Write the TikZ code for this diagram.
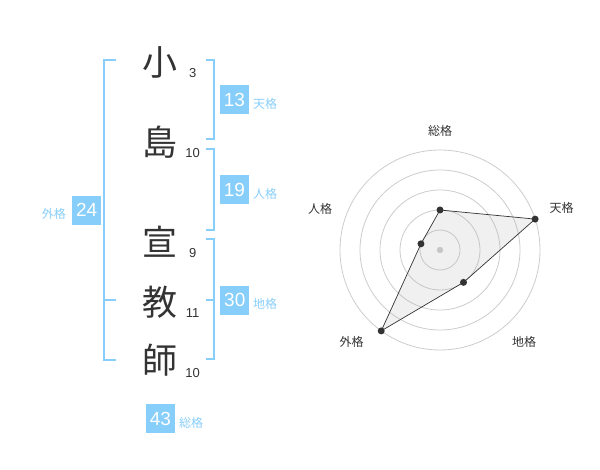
\documentclass[tikz,border=0pt]{standalone}
\usepackage{fontspec}
\setmainfont{Liberation Sans}
\newfontfamily\jp{Noto Sans CJK JP}
\definecolor{kblue}{HTML}{87CEFA}
\definecolor{ktext}{HTML}{333333}
\definecolor{kgrid}{HTML}{CCCCCC}
\tikzset{
  bigchar/.style={inner sep=0pt, font=\jp\fontsize{35}{35}\selectfont, text=ktext},
  strokes/.style={inner sep=0pt, font=\fontsize{13}{13}\selectfont, text=ktext},
  numbox/.style={fill=kblue, text=white, minimum width=29pt, minimum height=29pt, inner sep=0pt, font=\fontsize{19}{19}\selectfont},
  kaku/.style={inner sep=0pt, text=kblue, font=\jp\fontsize{12}{12}\selectfont},
  brk/.style={draw=kblue, line width=2pt},
  grid/.style={draw=kgrid, line width=0.8pt},
  radlabel/.style={inner sep=0pt, text=ktext, font=\jp\fontsize{12}{12}\selectfont},
  datadot/.style={circle, fill=ktext, inner sep=0pt, minimum size=7pt},
}
\begin{document}
\begin{tikzpicture}[x=1pt,y=-1pt]
\useasboundingbox (0,0) rectangle (600,470);
% characters
\node[bigchar] (c1) at (160,62) {小};
\node[bigchar] (c2) at (160,142) {島};
\node[bigchar] (c3) at (160,242) {宣};
\node[bigchar] (c4) at (160,302) {教};
\node[bigchar] (c5) at (160,360) {師};
\node[strokes] (s1) at (192.7,72.7) {3};
\node[strokes] (s2) at (192.7,152.7) {10};
\node[strokes] (s3) at (192.7,252.7) {9};
\node[strokes] (s4) at (192.7,313.3) {11};
\node[strokes] (s5) at (192.7,372.7) {10};
% brackets
\draw[brk] (116,60) -- (104,60) -- (104,360) -- (116,360);
\draw[brk] (104,300) -- (116,300);
\draw[brk] (205.5,60) -- (214.3,60) -- (214.3,139.5) -- (205.5,139.5);
\draw[brk] (205.5,149.5) -- (214.3,149.5) -- (214.3,230) -- (205.5,230);
\draw[brk] (205.5,239.5) -- (214.3,239.5) -- (214.3,359.5) -- (205.5,359.5);
\draw[brk] (205.5,300) -- (214.3,300);
% boxes
\node[numbox] (ten) at (234.5,100) {13};
\node[kaku, anchor=west] (tenl) at (253,104) {天格};
\node[numbox] (jin) at (234.5,190) {19};
\node[kaku, anchor=west] (jinl) at (253,194) {人格};
\node[numbox] (chi) at (234.8,300.3) {30};
\node[kaku, anchor=west] (chil) at (253,304.3) {地格};
\node[numbox] (gai) at (86.7,210.3) {24};
\node[kaku, anchor=east] (gail) at (66,214) {外格};
\node[numbox] (sou) at (160.5,418.8) {43};
\node[kaku, anchor=west] (soul) at (179,422.7) {総格};
% radar
\begin{scope}[shift={(440,250)}, y=1pt]
  \foreach \r in {20,40,60,80,100} \draw[grid] (0,0) circle (\r);
  \fill[kgrid] (0,0) circle (3.2);
  \coordinate (pS) at (90:40);
  \coordinate (pT) at (18:100);
  \coordinate (pC) at (-54:40);
  \coordinate (pG) at (-126:100);
  \coordinate (pJ) at (162:20);
  \filldraw[fill=black!30, fill opacity=0.2, draw=ktext, line width=0.7pt] (pS) -- (pT) -- (pC) -- (pG) -- (pJ) -- cycle;
  \foreach \p in {pS,pT,pC,pG,pJ} \node[datadot] at (\p) {};
  \node[radlabel] (lS) at (0,119.3) {総格};
  \node[radlabel] (lT) at (121.7,41.7) {天格};
  \node[radlabel] (lJ) at (-120,41) {人格};
  \node[radlabel] (lG) at (-88.3,-91.7) {外格};
  \node[radlabel] (lC) at (84,-91.7) {地格};
\end{scope}
\end{tikzpicture}
\end{document}
